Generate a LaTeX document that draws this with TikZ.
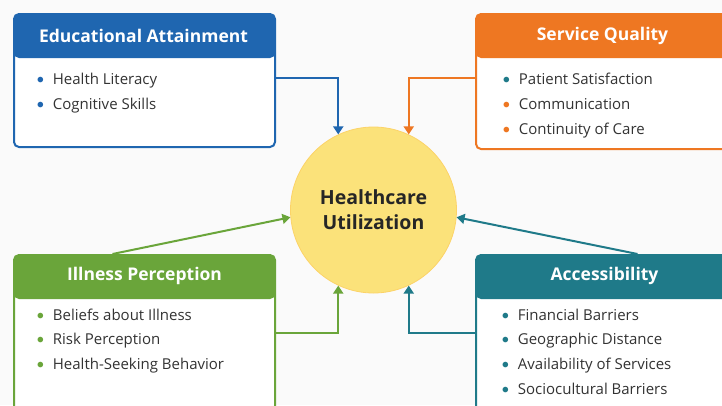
\documentclass[tikz,border=0pt]{standalone}
\usepackage{fontspec}
\setmainfont{Open Sans}
\newfontfamily\bulletfont{Lato}
\usetikzlibrary{arrows.meta}
\definecolor{edublue}{HTML}{1F66B0}
\definecolor{servorange}{HTML}{EE7722}
\definecolor{illgreen}{HTML}{6AA53A}
\definecolor{accteal}{HTML}{1F7A89}
\definecolor{hubyellow}{HTML}{FBE27A}
\definecolor{txtgray}{HTML}{333333}
\newcommand{\bul}[1]{\textcolor{#1}{\bulletfont\textbullet}\hspace{8pt}}
\tikzset{
  card/.style={draw=#1, line width=2pt, rounded corners=5pt, fill=white,
    minimum width=261pt, anchor=north west,
    path picture={\fill[#1] (path picture bounding box.north west)
      rectangle ([yshift=-44pt]path picture bounding box.north east);}},
  cardtitle/.style={text=white, font=\fontsize{17.5}{20}\selectfont\bfseries},
  item/.style={anchor=base west, inner sep=0pt, text=txtgray,
    font=\fontsize{15}{17}\selectfont},
  link/.style={draw=#1, line width=2pt, -{Triangle[length=8pt,width=10pt]}},
}
\begin{document}
\begin{tikzpicture}[x=1pt,y=-1pt]
  \useasboundingbox (0,0) rectangle (722,405);
  \fill[white!98!black] (0,0) rectangle (722,405);
  \clip (0,0) rectangle (722,405);
  \node[card=edublue, minimum height=133pt] (edu) at (13,13) {};
  \node[card=servorange, minimum height=135pt] (serv) at (475,13) {};
  \node[card=illgreen, minimum height=156pt] (ill) at (13,254) {};
  \node[card=accteal, minimum height=156pt] (acc) at (475,254) {};
  \node[cardtitle] (eduT) at ([yshift=-23pt,xshift=-1pt]edu.north) {Educational Attainment};
  \node[cardtitle] (servT) at ([yshift=-23pt,xshift=-4pt]serv.north) {Service Quality};
  \node[cardtitle] (illT) at ([yshift=-22pt]ill.north) {Illness Perception};
  \node[cardtitle] (accT) at ([yshift=-22pt,xshift=-2pt]acc.north) {Accessibility};
  \foreach \c/\t [count=\i] in {edublue/Health Literacy, edublue/Cognitive Skills}
    \node[item] (edu\i) at (36,59+25*\i) {\bul{\c}\t};
  \foreach \c/\t [count=\i] in {accteal/Patient Satisfaction,
      servorange/Communication, servorange/Continuity of Care}
    \node[item] (serv\i) at (502,59+25*\i) {\bul{\c}\t};
  \foreach \c/\t [count=\i] in {illgreen/Beliefs about Illness,
      illgreen/Risk Perception, illgreen/Health-Seeking Behavior}
    \node[item] (ill\i) at (36,295.5+24.7*\i) {\bul{\c}\t};
  \foreach \c/\t [count=\i] in {accteal/Financial Barriers, accteal/Geographic Distance,
      accteal/Availability of Services, accteal/Sociocultural Barriers}
    \node[item] (acc\i) at (501,295.5+24.7*\i) {\bul{\c}\t};
  \node[circle, fill=hubyellow, draw=hubyellow!85!orange, line width=0.8pt,
    minimum size=166pt, align=center, text=black!85,
    font=\fontsize{19.5}{25}\selectfont\bfseries] (hub) at (373.5,210) {Healthcare\\Utilization};
  \draw[link=edublue] ([yshift=2.5pt]edu.east) -| (hub.115);
  \draw[link=servorange] ([yshift=3.5pt]serv.west) -| (hub.65);
  \draw[link=illgreen] (ill.east) -| (hub.245);
  \draw[link=accteal] (acc.west) -| (hub.295);
  \draw[link=illgreen] ([xshift=-32pt]ill.north) -- (hub.185);
  \draw[link=accteal] ([xshift=31pt]acc.north) -- (hub.-5);
\end{tikzpicture}
\end{document}
